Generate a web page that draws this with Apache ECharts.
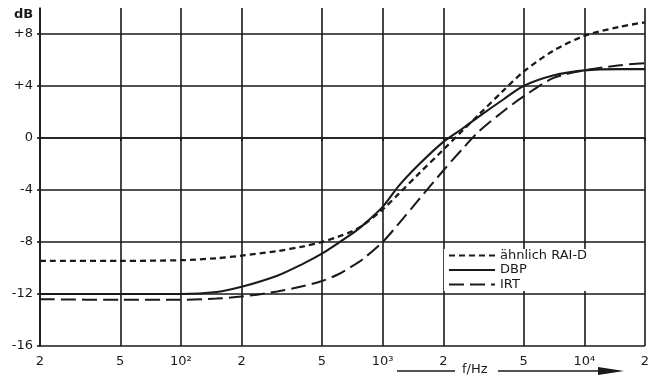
<!DOCTYPE html>
<html>
<head>
<meta charset="utf-8">
<script src="https://cdn.jsdelivr.net/npm/echarts@6/dist/echarts.min.js"></script>
<style>
html,body{margin:0;padding:0;background:#fff;}
#chart{width:659px;height:384px;}
</style>
</head>
<body>
<div id="chart"></div>
<script>
// Frequencies (Hz) at which curves were read
const freqs = [20, 50, 100, 150, 200, 300, 400, 500, 600, 700, 800, 1000, 1200, 1500, 2000, 2500, 3000, 4000, 5000, 7000, 10000, 15000, 20000];
// Series values (dB)
const raiD = [-9.45, -9.45, -9.4, -9.25, -9.05, -8.7, -8.35, -8.0, -7.6, -7.2, -6.7, -5.5, -4.3, -2.8, -0.9, 0.6, 1.8, 3.7, 5.1, 6.7, 7.85, 8.55, 8.9];
const dbp  = [-12.0, -12.0, -12.0, -11.85, -11.45, -10.6, -9.7, -8.9, -8.1, -7.4, -6.7, -5.3, -3.7, -2.1, -0.3, 0.75, 1.65, 3.0, 4.0, 4.8, 5.2, 5.3, 5.3];
const irt  = [-12.4, -12.45, -12.45, -12.35, -12.2, -11.8, -11.4, -11.0, -10.5, -9.9, -9.3, -8.0, -6.6, -4.8, -2.5, -0.8, 0.5, 2.1, 3.2, 4.6, 5.2, 5.6, 5.75];
const seriesNames = ['ähnlich RAI-D', 'DBP', 'IRT'];
// Axis ticks
const xTickValues = [20, 50, 100, 200, 500, 1000, 2000, 5000, 10000, 20000];
const xTickLabels = ['2', '5', '10²', '2', '5', '10³', '2', '5', '10⁴', '2'];
const yTicks = [-16, -12, -8, -4, 0, 4, 8];
const yMin = -16, yMax = 10, yStep = 4;

const FONT = 'DejaVu Sans';
const INK = '#1a1a1a';

function pairs(vals) { return freqs.map((f, i) => [f, vals[i]]); }

const chart = echarts.init(document.getElementById('chart'), null, {renderer: 'canvas'});
chart.setOption({
  animation: false,
  backgroundColor: '#fff',
  grid: {left: 40, right: 14, top: 8, bottom: 38, containLabel: false},
  xAxis: {
    type: 'log', logBase: 10, min: 20, max: 20000,
    axisLine: {show: true, lineStyle: {color: INK, width: 1.6}},
    axisTick: {show: true, length: 3, customValues: xTickValues, lineStyle: {color: INK, width: 1.6}},
    splitLine: {show: true, lineStyle: {color: INK, width: 1.6}},
    minorTick: {show: false}, minorSplitLine: {show: false},
    axisLabel: {
      customValues: xTickValues, margin: 9,
      fontFamily: FONT, fontSize: 13, color: INK,
      formatter: function (v) {
        const i = xTickValues.findIndex(t => Math.abs(t - v) / t < 1e-6);
        return i >= 0 ? xTickLabels[i] : '';
      }
    }
  },
  yAxis: {
    type: 'value', min: yMin, max: yMax, interval: yStep,
    axisLine: {show: true, lineStyle: {color: INK, width: 1.6}},
    axisTick: {show: true, length: 3, lineStyle: {color: INK, width: 1.6}},
    splitLine: {show: true, showMaxLine: false, lineStyle: {color: INK, width: 1.6}},
    axisLabel: {
      showMaxLabel: false, margin: 7,
      fontFamily: FONT, fontSize: 13, color: INK,
      formatter: function (v) {
        if (yTicks.indexOf(v) < 0) return '';
        return v > 0 ? '+' + v : String(v);
      }
    }
  },
  legend: {
    show: true, orient: 'vertical', left: 444, top: 249,
    padding: [0, 4, 0, 4], itemGap: 1.5, itemWidth: 46, itemHeight: 10,
    backgroundColor: '#fff',
    itemStyle: {color: 'rgba(0,0,0,0)', borderWidth: 0, opacity: 0},
    textStyle: {fontFamily: FONT, fontSize: 13, lineHeight: 13, color: INK},
    data: seriesNames
  },
  series: [
    {name: seriesNames[0], type: 'line', data: pairs(raiD), smooth: 0.3, symbol: 'none',
     lineStyle: {color: INK, width: 2.3, type: [6, 4]}, itemStyle: {color: INK}},
    {name: seriesNames[1], type: 'line', data: pairs(dbp), smooth: 0.3, symbol: 'none',
     lineStyle: {color: INK, width: 2.1, type: 'solid'}, itemStyle: {color: INK}},
    {name: seriesNames[2], type: 'line', data: pairs(irt), smooth: 0.3, symbol: 'none',
     lineStyle: {color: INK, width: 2.0, type: [15, 6]}, itemStyle: {color: INK}}
  ],
  graphic: [
    {type: 'text', left: 14, top: 8, style: {text: 'dB', fontFamily: FONT, fontSize: 13, fontWeight: 'bold', fill: INK}},
    {type: 'line', shape: {x1: 397, y1: 371, x2: 455, y2: 371}, style: {stroke: INK, lineWidth: 1.5}},
    {type: 'text', x: 462, y: 363, style: {text: 'f/Hz', fontFamily: FONT, fontSize: 13, fill: INK}},
    {type: 'line', shape: {x1: 498, y1: 371, x2: 612, y2: 371}, style: {stroke: INK, lineWidth: 1.5}},
    {type: 'polygon', shape: {points: [[598, 367], [624, 371], [598, 375]]}, style: {fill: INK}}
  ]
});
</script>
</body>
</html>
